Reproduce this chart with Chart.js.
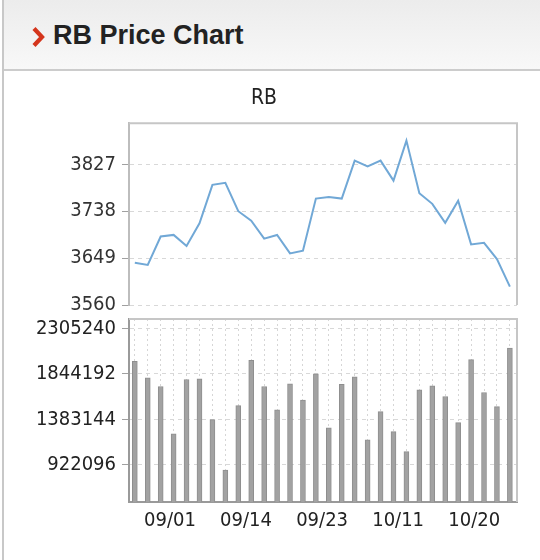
<!DOCTYPE html>
<html>
<head>
<meta charset="utf-8">
<script src="https://cdn.jsdelivr.net/npm/chart.js@4.4.0/dist/chart.umd.min.js"></script>
<style>
  html, body { margin: 0; padding: 0; background: #fff; }
  #page { position: relative; width: 540px; height: 560px; overflow: hidden; background: #fff; }
  #leftline { position: absolute; left: 2px; top: 0; width: 2px; height: 560px; background: #c8c8c8; }
  #header { position: absolute; left: 4px; top: 0; width: 536px; height: 69px;
            background: linear-gradient(#ececec, #f8f8f8); border-bottom: 2px solid #cccccc; }
  #htitle { position: absolute; left: 53px; top: 20px; font: bold 27px 'Liberation Sans', Arial, sans-serif;
            line-height: 30px; color: #222; white-space: nowrap; }
  #chev { position: absolute; left: 31px; top: 27px; }
  canvas { position: absolute; }
  #c1 { left: 11px; top: 72px; }
  #c2 { left: 11px; top: 311px; }
</style>
</head>
<body>
<div id="page">
  <div id="header"></div>
  <div id="leftline"></div>
  <svg id="chev" width="14" height="20" viewBox="0 0 14 20"><polyline points="3,1.5 11,10 3,18.5" fill="none" stroke="#d4351c" stroke-width="4.2"/></svg>
  <div id="htitle">RB Price Chart</div>
  <canvas id="c1" width="529" height="245"></canvas>
  <canvas id="c2" width="529" height="249"></canvas>
</div>
<script>
const chartTitle = 'RB';
const priceTicks = [3560, 3649, 3738, 3827];
const volumeTicks = [922096, 1383144, 1844192, 2305240];
const dateLabels = ['09/01', '09/14', '09/23', '10/11', '10/20'];
const prices = [3640, 3636, 3690, 3693, 3672, 3715, 3788, 3792, 3738, 3720,
                3686, 3693, 3658, 3663, 3762, 3765, 3762, 3834, 3823, 3834,
                3796, 3872, 3772, 3752, 3716, 3758, 3675, 3678, 3647, 3595];
const volumes = [1972000, 1805000, 1717000, 1235000, 1788000, 1795000, 1381000, 868000, 1523000, 1982000,
                 1717000, 1479000, 1744000, 1578000, 1846000, 1296000, 1738000, 1816000, 1174000, 1462000,
                 1258000, 1055000, 1683000, 1724000, 1615000, 1350000, 1989000, 1656000, 1513000, 2108000];

const FONT = "'DejaVu Sans Condensed', 'DejaVu Sans', sans-serif";
const X_MIN = -0.45, X_MAX = 29.55;
const LABEL_START = 2.72, LABEL_STEP = 5.88;

const framePlugin = {
  id: 'frame',
  beforeDatasetsDraw(chart, args, opts) {
    const { ctx, chartArea: a } = chart;
    ctx.save();
    ctx.strokeStyle = opts.color;
    ctx.lineWidth = 2;
    ctx.beginPath();
    ctx.moveTo(a.left, a.top);
    ctx.lineTo(a.right, a.top);
    ctx.lineTo(a.right, a.bottom);
    ctx.stroke();
    ctx.restore();
  }
};

function fixYAxis(s) {
  s.width = 118;
  s.paddingTop = 0;
  s.paddingBottom = 0;
}

new Chart(document.getElementById('c1'), {
  type: 'line',
  data: {
    datasets: [{
      data: prices.map((v, i) => ({ x: i, y: v })),
      borderColor: '#71a8d6',
      borderWidth: 2,
      pointRadius: 0,
      tension: 0,
      fill: false
    }]
  },
  options: {
    responsive: false,
    animation: false,
    layout: { padding: { left: 0, right: 23, top: 0, bottom: 12 } },
    plugins: {
      legend: { display: false },
      tooltip: { enabled: false },
      frame: { color: '#c6c6c6' },
      title: {
        display: true, text: chartTitle, color: '#222',
        font: { family: FONT, size: 21, weight: 'normal' },
        padding: { top: 14, bottom: 12 }
      }
    },
    scales: {
      x: { type: 'linear', min: X_MIN, max: X_MAX, display: false, offset: false },
      y: {
        min: 3560, max: 3905,
        afterBuildTicks: s => { s.ticks = priceTicks.map(v => ({ value: v })); },
        afterFit: fixYAxis,
        ticks: { color: '#333', font: { family: FONT, size: 20 }, padding: 6, callback: v => String(v) },
        grid: { color: '#d8d8d8', tickColor: '#a0a0a0', tickLength: 7, tickBorderDash: [] },
        border: { color: '#bdbdbd', width: 2, dash: [4, 4] }
      }
    }
  },
  plugins: [framePlugin]
});

new Chart(document.getElementById('c2'), {
  type: 'bar',
  data: {
    datasets: [{
      data: volumes.map((v, i) => ({ x: i, y: v })),
      backgroundColor: '#a2a2a2',
      borderColor: '#8e8e8e',
      borderWidth: 1,
      barThickness: 5,
      xAxisID: 'x',
      yAxisID: 'y'
    }]
  },
  options: {
    responsive: false,
    animation: false,
    layout: { padding: { left: 0, right: 23, top: 8, bottom: 0 } },
    plugins: {
      legend: { display: false },
      tooltip: { enabled: false },
      frame: { color: '#c6c6c6' }
    },
    scales: {
      x: {
        type: 'linear', min: X_MIN, max: X_MAX, position: 'bottom', offset: false,
        afterBuildTicks: s => { s.ticks = dateLabels.map((l, k) => ({ value: LABEL_START + k * LABEL_STEP })); },
        afterFit: s => { s.height = 58; s.paddingLeft = 0; s.paddingRight = 0; },
        ticks: {
          color: '#222', font: { family: FONT, size: 20 }, padding: 7,
          autoSkip: false, maxRotation: 0,
          callback: (v, idx) => dateLabels[idx]
        },
        grid: { display: false, drawTicks: false, offset: false },
        border: { color: '#9a9a9a', width: 2 }
      },
      xg: {
        type: 'linear', min: X_MIN, max: X_MAX, position: 'bottom', offset: false,
        afterBuildTicks: s => { s.ticks = volumes.map((v, i) => ({ value: i })); },
        afterFit: s => { s.height = 0; },
        ticks: { display: false },
        grid: { color: '#d6d6d6', drawTicks: false, offset: false },
        border: { display: false, dash: [2, 3] }
      },
      y: {
        min: 544000, max: 2402000,
        afterBuildTicks: s => { s.ticks = volumeTicks.map(v => ({ value: v })); },
        afterFit: fixYAxis,
        ticks: { color: '#222', font: { family: FONT, size: 20 }, padding: 6, callback: v => String(v) },
        grid: { color: '#d8d8d8', tickColor: '#a0a0a0', tickLength: 7, tickBorderDash: [] },
        border: { color: '#9a9a9a', width: 2, dash: [4, 4] }
      }
    }
  },
  plugins: [framePlugin]
});
</script>
</body>
</html>
